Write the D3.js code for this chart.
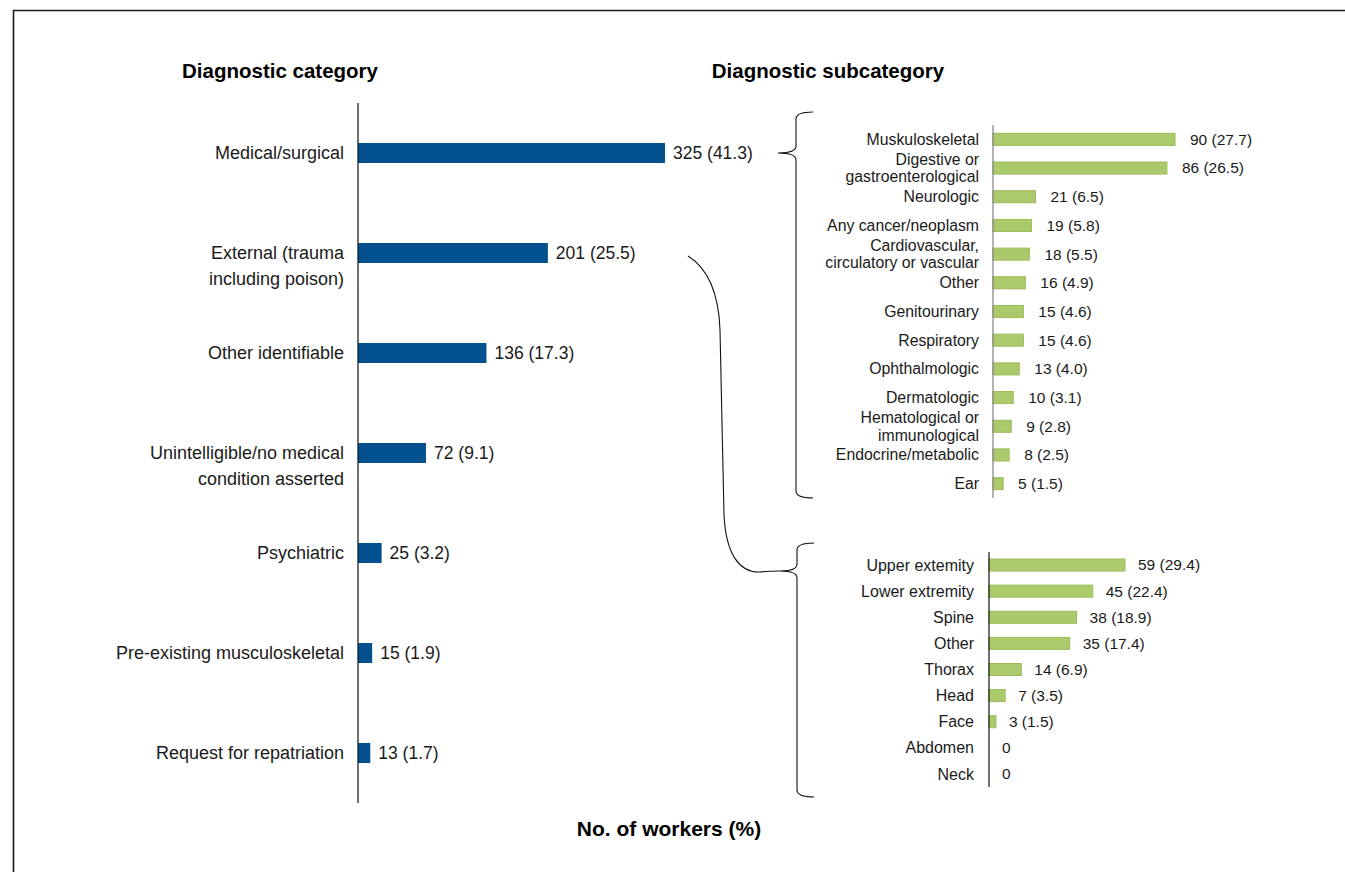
<!DOCTYPE html>
<html>
<head>
<meta charset="utf-8">
<script src="https://cdn.jsdelivr.net/npm/d3@7"></script>
<style>
  html, body { margin: 0; padding: 0; background: #fff; overflow: hidden; }
  svg { display: block; font-family: "Liberation Sans", Arial, Helvetica, sans-serif; }
</style>
</head>
<body>
<svg id="chart" width="1345" height="872"></svg>
<script>
// --- data ---
const catLabels = ["Medical/surgical", "External (trauma\nincluding poison)", "Other identifiable",
  "Unintelligible/no medical\ncondition asserted", "Psychiatric", "Pre-existing musculoskeletal",
  "Request for repatriation"];
const catCounts = [325, 201, 136, 72, 25, 15, 13];
const catPcts = ["41.3", "25.5", "17.3", "9.1", "3.2", "1.9", "1.7"];

const medLabels = ["Muskuloskeletal", "Digestive or\ngastroenterological", "Neurologic", "Any cancer/neoplasm",
  "Cardiovascular,\ncirculatory or vascular", "Other", "Genitourinary", "Respiratory", "Ophthalmologic",
  "Dermatologic", "Hematological or\nimmunological", "Endocrine/metabolic", "Ear"];
const medCounts = [90, 86, 21, 19, 18, 16, 15, 15, 13, 10, 9, 8, 5];
const medPcts = ["27.7", "26.5", "6.5", "5.8", "5.5", "4.9", "4.6", "4.6", "4.0", "3.1", "2.8", "2.5", "1.5"];

const injLabels = ["Upper extemity", "Lower extremity", "Spine", "Other", "Thorax", "Head", "Face", "Abdomen", "Neck"];
const injCounts = [59, 45, 38, 35, 14, 7, 3, 0, 0];
const injPcts = ["29.4", "22.4", "18.9", "17.4", "6.9", "3.5", "1.5", null, null];

const svg = d3.select("#chart");
const blue = "#03528f";
const greenFill = "#abca6c";
const greenEdge = "#9bbb59";

// frame: only the top and left edges fall inside the page
svg.append("path")
  .attr("d", "M 13.5 872 L 13.5 10.5 L 1345 10.5")
  .attr("fill", "none").attr("stroke", "#1a1a1a").attr("stroke-width", 1.6);

// headers
svg.append("text").attr("x", 280).attr("y", 78).attr("text-anchor", "middle")
  .attr("font-size", 20.5).attr("font-weight", "bold").text("Diagnostic category");
svg.append("text").attr("x", 828).attr("y", 78).attr("text-anchor", "middle")
  .attr("font-size", 20.5).attr("font-weight", "bold").text("Diagnostic subcategory");
svg.append("text").attr("x", 669).attr("y", 836).attr("text-anchor", "middle")
  .attr("font-size", 21).attr("font-weight", "bold").text("No. of workers (%)");

// generic horizontal bar panel
function panel(opt) {
  const rows = opt.labels.map((l, i) => ({ label: l, count: opt.counts[i], pct: opt.pcts[i], i }));
  const x = d3.scaleLinear().domain([0, opt.xMax]).range([opt.x0, opt.x1]);
  const y = d3.scaleBand().domain(d3.range(rows.length)).range([opt.yTop, opt.yBot])
    .paddingInner(opt.padIn).paddingOuter(opt.padIn / 2);

  const g = svg.append("g");

  g.selectAll("rect.bar").data(rows.filter(d => d.count > 0)).join("rect")
    .attr("class", "bar")
    .attr("x", x(0))
    .attr("y", d => y(d.i))
    .attr("width", d => x(d.count) - x(0))
    .attr("height", y.bandwidth())
    .attr("fill", opt.fill)
    .attr("stroke", opt.stroke || "none")
    .attr("stroke-width", opt.stroke ? 1 : 0);

  // axis line (no ticks)
  g.append("line")
    .attr("x1", x(0)).attr("x2", x(0))
    .attr("y1", opt.yTop).attr("y2", opt.yBot)
    .attr("stroke", opt.axisColor).attr("stroke-width", 1.2);

  // category labels
  g.selectAll("text.lab").data(rows).join("text")
    .attr("class", "lab")
    .attr("text-anchor", "end")
    .attr("font-size", opt.labelSize)
    .attr("fill", "#1a1a1a")
    .each(function(d) {
      const lines = d.label.split("\n");
      const cy = y(d.i) + y.bandwidth() / 2;
      const start = opt.centerLines ? cy - (lines.length - 1) * opt.lineH / 2 : cy;
      d3.select(this).selectAll("tspan").data(lines).join("tspan")
        .attr("x", x(0) - opt.labelGap)
        .attr("y", (t, k) => start + k * opt.lineH)
        .attr("dy", "0.35em")
        .text(t => t);
    });

  // value labels
  g.selectAll("text.val").data(rows).join("text")
    .attr("class", "val")
    .attr("x", d => x(d.count) + opt.valGap)
    .attr("y", d => y(d.i) + y.bandwidth() / 2)
    .attr("dy", "0.35em")
    .attr("font-size", opt.valSize)
    .attr("fill", "#1a1a1a")
    .text(d => d.pct == null ? d.count : `${d.count} (${d.pct})`);

  return { x, y };
}

const catPanel = panel({
  labels: catLabels, counts: catCounts, pcts: catPcts, xMax: 325,
  x0: 358, x1: 665, yTop: 103, yBot: 803, padIn: 0.8,
  fill: blue, axisColor: "#111", labelSize: 18, valSize: 17.5,
  labelGap: 14, valGap: 8, lineH: 26, centerLines: false
});

const medPanel = panel({
  labels: medLabels, counts: medCounts, pcts: medPcts, xMax: 90,
  x0: 993, x1: 1175, yTop: 125, yBot: 498, padIn: 0.58,
  fill: greenFill, stroke: greenEdge, axisColor: "#808080", labelSize: 15.8, valSize: 15.5,
  labelGap: 14, valGap: 15, lineH: 17.5, centerLines: true
});

const injPanel = panel({
  labels: injLabels, counts: injCounts, pcts: injPcts, xMax: 59,
  x0: 989, x1: 1125, yTop: 552, yBot: 787, padIn: 0.54,
  fill: greenFill, stroke: greenEdge, axisColor: "#111", labelSize: 16, valSize: 15.5,
  labelGap: 15, valGap: 13, lineH: 17.5, centerLines: true
});

// braces
function brace(xb, y0, tipY, y1, tipX) {
  const r = 7, w = 17;
  return `M ${xb + w} ${y0} Q ${xb} ${y0} ${xb} ${y0 + r}` +
    ` L ${xb} ${tipY - r} Q ${xb} ${tipY} ${tipX} ${tipY}` +
    ` Q ${xb} ${tipY} ${xb} ${tipY + r}` +
    ` L ${xb} ${y1 - r} Q ${xb} ${y1} ${xb + w} ${y1}`;
}
const medTip = catPanel.y(0) + catPanel.y.bandwidth() / 2;
svg.append("path").attr("d", brace(796, 112, medTip, 498, 778))
  .attr("fill", "none").attr("stroke", "#111").attr("stroke-width", 1.1);

const injTip = 571;
svg.append("path").attr("d", brace(797, 543, injTip, 797, 780))
  .attr("fill", "none").attr("stroke", "#111").attr("stroke-width", 1.1);

// connector from "External" row to injury brace
const extY = catPanel.y(1) + catPanel.y.bandwidth() / 2 + 3;
svg.append("path")
  .attr("d", `M 688 ${extY} C 712 ${extY + 15}, 719 ${extY + 45}, 720 330 L 724 515` +
    ` C 726 555, 740 573, 760 572 Q 770 571 780 ${injTip}`)
  .attr("fill", "none").attr("stroke", "#111").attr("stroke-width", 1.1);
</script>
</body>
</html>
